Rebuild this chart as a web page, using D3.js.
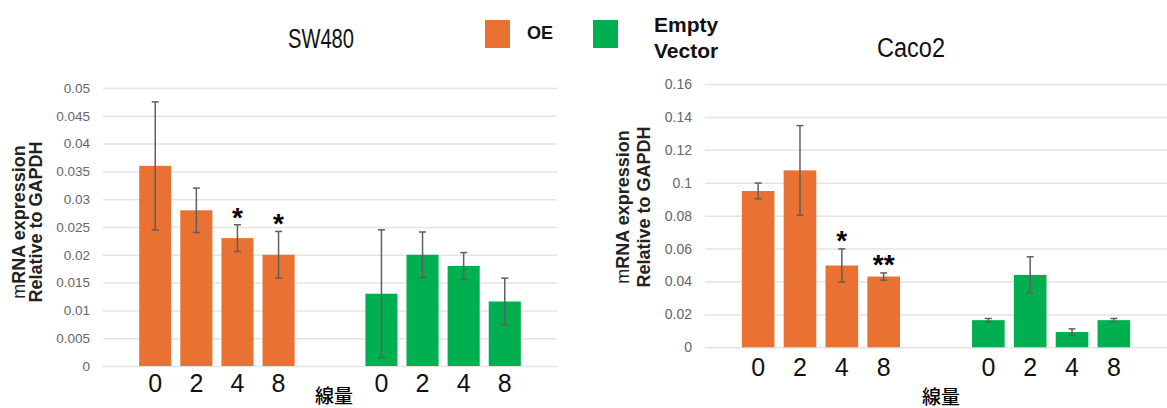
<!DOCTYPE html>
<html lang="ja">
<head>
<meta charset="UTF-8">
<script src="https://cdnjs.cloudflare.com/ajax/libs/d3/7.8.5/d3.min.js"></script>
<style>
  body { margin: 0; background: #fff; }
  svg { display: block; }
  svg text { font-family: "Liberation Sans", Arial, sans-serif; }
</style>
</head>
<body>
<svg id="chart" width="1167" height="408"></svg>
<script>
// categories
var doses = ["0", "2", "4", "8"];
var groups = ["OE", "Empty Vector"];
var groupColors = ["#E97132", "#00B050"];

// SW480 values (mean, error)
var sw480OE = [0.036, 0.028, 0.023, 0.020];
var sw480OEErr = [0.0115, 0.004, 0.0024, 0.0042];
var sw480EV = [0.013, 0.020, 0.018, 0.0116];
var sw480EVErr = [0.0115, 0.0041, 0.0024, 0.0042];
var sw480Sig = ["", "", "*", "*"];
var sw480Ticks = [0, 0.005, 0.01, 0.015, 0.02, 0.025, 0.03, 0.035, 0.04, 0.045, 0.05];

// Caco2 values (mean, error)
var caco2OE = [0.095, 0.1075, 0.0497, 0.043];
var caco2OEErr = [0.0048, 0.0272, 0.0101, 0.0022];
var caco2EV = [0.0165, 0.044, 0.0093, 0.0165];
var caco2EVErr = [0.001, 0.011, 0.0019, 0.001];
var caco2Sig = ["", "", "*", "**"];
var caco2Ticks = [0, 0.02, 0.04, 0.06, 0.08, 0.1, 0.12, 0.14, 0.16];

var svg = d3.select("#chart");

function drawPanel(p) {
    var g = svg.append("g");

    var y = d3.scaleLinear().domain([0, p.max]).range([p.bottom, p.top]);
    var x0 = d3.scaleBand().domain(groups).range([p.left, p.right])
        .paddingInner(0.273).paddingOuter(0.14);
    var x1 = d3.scaleBand().domain(doses).range([0, x0.bandwidth()])
        .paddingInner(0.22).paddingOuter(0.11);

    // gridlines + tick labels
    var axis = d3.axisLeft(y).tickValues(p.ticks).tickFormat(d3.format("~g"))
        .tickSize(-(p.right - p.left)).tickPadding(13);
    var ax = g.append("g").attr("transform", "translate(" + p.left + ",0)").call(axis);
    ax.attr("font-family", null);
    ax.select(".domain").remove();
    ax.selectAll(".tick line").attr("stroke", "#e4e4e4").attr("stroke-width", 1.5);
    ax.selectAll(".tick text").attr("fill", "#666").style("font-size", p.tickSize + "px");

    var rows = [];
    groups.forEach(function (grp, gi) {
        doses.forEach(function (d, di) {
            rows.push({group: grp, gi: gi, dose: d,
                value: p.series[gi][di], err: p.errors[gi][di],
                sig: gi === 0 ? p.sig[di] : ""});
        });
    });

    var cx = function (r) { return x0(r.group) + x1(r.dose) + x1.bandwidth() / 2; };

    g.selectAll("rect.bar").data(rows).enter().append("rect")
        .attr("class", "bar")
        .attr("x", function (r) { return x0(r.group) + x1(r.dose); })
        .attr("width", x1.bandwidth())
        .attr("y", function (r) { return y(r.value); })
        .attr("height", function (r) { return y(0) - y(r.value); })
        .attr("fill", function (r) { return groupColors[r.gi]; });

    var eb = g.selectAll("g.err").data(rows).enter().append("g")
        .attr("class", "err").attr("stroke", "#5f5f5f").attr("stroke-width", 1.5);
    eb.append("line")
        .attr("x1", cx).attr("x2", cx)
        .attr("y1", function (r) { return y(r.value + r.err); })
        .attr("y2", function (r) { return y(r.value - r.err); });
    [1, -1].forEach(function (s) {
        eb.append("line")
            .attr("x1", function (r) { return cx(r) - 3.5; })
            .attr("x2", function (r) { return cx(r) + 3.5; })
            .attr("y1", function (r) { return y(r.value + s * r.err); })
            .attr("y2", function (r) { return y(r.value + s * r.err); });
    });

    g.selectAll("text.sig").data(rows.filter(function (r) { return r.sig; })).enter()
        .append("text").attr("class", "sig")
        .attr("x", cx)
        .attr("y", function (r) { return y(r.value + r.err) + p.sigOffset; })
        .attr("text-anchor", "middle")
        .style("font-size", "28px").style("font-weight", "bold")
        .text(function (r) { return r.sig; });

    g.selectAll("text.dose").data(rows).enter().append("text")
        .attr("class", "dose")
        .attr("x", cx)
        .attr("y", p.doseY)
        .attr("text-anchor", "middle")
        .attr("dominant-baseline", "central")
        .style("font-size", "25px").attr("fill", "#111")
        .text(function (r) { return r.dose; });

    g.append("text")
        .attr("x", p.xTitleX).attr("y", p.xTitleY)
        .attr("text-anchor", "middle").attr("dominant-baseline", "central")
        .style("font-family", "'Noto Sans CJK JP', sans-serif")
        .style("font-size", "19px").style("font-weight", 500)
        .text("線量");

    var yt = g.append("text")
        .attr("transform", "translate(" + p.yTitleX + "," + p.yTitleY + ") rotate(-90)")
        .attr("text-anchor", "middle")
        .style("font-size", "18px").style("font-weight", "bold").attr("fill", "#222");
    var l1 = yt.append("tspan").attr("x", 0).attr("dy", "0.35em");
    l1.append("tspan").style("font-weight", "normal").text("m");
    l1.append("tspan").text("RNA expression");
    yt.append("tspan").attr("x", 0).attr("dy", p.yTitleGap).text("Relative to GAPDH");

    g.append("text")
        .attr("x", p.titleX).attr("y", p.titleY)
        .attr("text-anchor", "middle").attr("dominant-baseline", "central")
        .attr("textLength", p.titleWidth).attr("lengthAdjust", "spacingAndGlyphs")
        .style("font-size", "27px").attr("fill", "#111")
        .text(p.title);
}

drawPanel({
    title: "SW480", titleX: 321, titleY: 39, titleWidth: 66,
    left: 103, right: 557, top: 88, bottom: 366, max: 0.05, ticks: sw480Ticks,
    series: [sw480OE, sw480EV], errors: [sw480OEErr, sw480EVErr], sig: sw480Sig,
    sigOffset: 2, tickSize: 13.5, doseY: 383, xTitleX: 334, xTitleY: 394,
    yTitleX: 19, yTitleY: 222, yTitleGap: 17
});

drawPanel({
    title: "Caco2", titleX: 911, titleY: 48, titleWidth: 68,
    left: 705, right: 1167, top: 84, bottom: 347.3, max: 0.16, ticks: caco2Ticks,
    series: [caco2OE, caco2EV], errors: [caco2OEErr, caco2EVErr], sig: caco2Sig,
    sigOffset: 1, tickSize: 14, doseY: 367, xTitleX: 941, xTitleY: 395,
    yTitleX: 623, yTitleY: 207, yTitleGap: 21
});

// legend
var legend = svg.append("g");
var legendX = [485, 593];
legend.selectAll("rect").data(groups).enter().append("rect")
    .attr("x", function (d, i) { return legendX[i]; })
    .attr("y", 20).attr("width", 25).attr("height", 28)
    .attr("fill", function (d, i) { return groupColors[i]; });
legend.append("text").attr("x", 527).attr("y", 39)
    .style("font-size", "18px").style("font-weight", "bold").attr("fill", "#111")
    .text(groups[0]);
var ev = legend.append("text").attr("x", 654).attr("y", 32)
    .style("font-size", "21px").style("font-weight", "bold").attr("fill", "#111");
groups[1].split(" ").forEach(function (w, i) {
    ev.append("tspan").attr("x", 654).attr("dy", i ? 26 : 0).text(w);
});
</script>
</body>
</html>
